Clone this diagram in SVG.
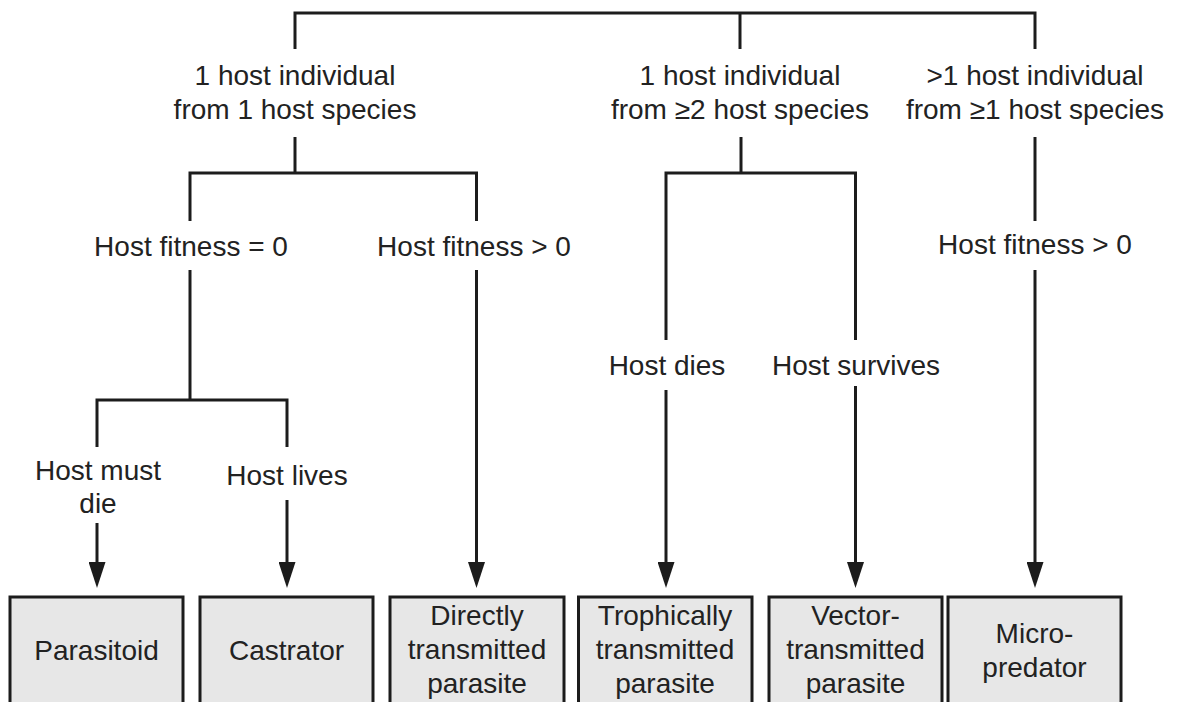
<svg xmlns="http://www.w3.org/2000/svg" width="1177" height="702" viewBox="0 0 1177 702">
<style>
  .t { font-family: "Liberation Sans", Arial, sans-serif; font-size: 28px; fill: #222; text-anchor: middle; }
  .c { fill: none; stroke: #1c1c1c; stroke-width: 3; stroke-linejoin: miter; stroke-linecap: butt; }
  .box { fill: #e7e7e7; stroke: #1c1c1c; stroke-width: 3; }
</style>
<defs>
  <marker id="arr" viewBox="0 0 26 17" refX="2" refY="8.5" markerWidth="26" markerHeight="17" markerUnits="userSpaceOnUse" orient="auto">
    <path d="M0,0 L26,8.5 L0,17 Z" fill="#1c1c1c"/>
  </marker>
</defs>
<rect x="0" y="0" width="1177" height="702" fill="#ffffff"/>
<g id="connectors">
  <path class="c" d="M295,49 V13 H1035 V49"/>
  <path class="c" d="M740,13 V49"/>
  <path class="c" d="M295,137 V173"/>
  <path class="c" d="M190,221 V173 H476.5 V221"/>
  <path class="c" d="M190,270 V400"/>
  <path class="c" d="M97,447 V400 H287 V447"/>
  <path class="c" d="M97,523 V564" marker-end="url(#arr)"/>
  <path class="c" d="M287,500 V564" marker-end="url(#arr)"/>
  <path class="c" d="M476.5,270 V564" marker-end="url(#arr)"/>
  <path class="c" d="M741,137 V173"/>
  <path class="c" d="M666,340 V173 H855.5 V340"/>
  <path class="c" d="M666,390 V564" marker-end="url(#arr)"/>
  <path class="c" d="M855.5,386 V564" marker-end="url(#arr)"/>
  <path class="c" d="M1035,137 V221"/>
  <path class="c" d="M1035,270 V564" marker-end="url(#arr)"/>
</g>
<g id="label-one-host-one-species">
  <text class="t" x="295" y="85">1 host individual</text>
  <text class="t" x="295" y="119">from 1 host species</text>
</g>
<g id="label-one-host-two-species">
  <text class="t" x="740" y="85">1 host individual</text>
  <text class="t" x="740" y="119">from ≥2 host species</text>
</g>
<g id="label-many-hosts">
  <text class="t" x="1035" y="85">&gt;1 host individual</text>
  <text class="t" x="1035" y="119">from ≥1 host species</text>
</g>
<g id="label-fitness-zero"><text class="t" x="191" y="256">Host fitness = 0</text></g>
<g id="label-fitness-pos-1"><text class="t" x="474" y="256">Host fitness &gt; 0</text></g>
<g id="label-fitness-pos-2"><text class="t" x="1035" y="254">Host fitness &gt; 0</text></g>
<g id="label-host-must-die">
  <text class="t" x="98" y="480">Host must</text>
  <text class="t" x="98" y="513">die</text>
</g>
<g id="label-host-lives"><text class="t" x="287" y="485">Host lives</text></g>
<g id="label-host-dies"><text class="t" x="667" y="375">Host dies</text></g>
<g id="label-host-survives"><text class="t" x="856" y="375">Host survives</text></g>
<g id="node-parasitoid">
  <rect class="box" x="10" y="597" width="173" height="120"/>
  <text class="t" x="96.5" y="660">Parasitoid</text>
</g>
<g id="node-castrator">
  <rect class="box" x="200" y="597" width="173" height="120"/>
  <text class="t" x="286.5" y="660">Castrator</text>
</g>
<g id="node-direct">
  <rect class="box" x="390" y="597" width="174" height="120"/>
  <text class="t" x="477" y="625">Directly</text>
  <text class="t" x="477" y="659">transmitted</text>
  <text class="t" x="477" y="693">parasite</text>
</g>
<g id="node-trophic">
  <rect class="box" x="578.5" y="597" width="173.5" height="120"/>
  <text class="t" x="665" y="625">Trophically</text>
  <text class="t" x="665" y="659">transmitted</text>
  <text class="t" x="665" y="693">parasite</text>
</g>
<g id="node-vector">
  <rect class="box" x="769" y="597" width="173" height="120"/>
  <text class="t" x="855.5" y="625">Vector-</text>
  <text class="t" x="855.5" y="659">transmitted</text>
  <text class="t" x="855.5" y="693">parasite</text>
</g>
<g id="node-micropredator">
  <rect class="box" x="948" y="597" width="173" height="120"/>
  <text class="t" x="1034.5" y="643">Micro-</text>
  <text class="t" x="1034.5" y="677">predator</text>
</g>
</svg>
